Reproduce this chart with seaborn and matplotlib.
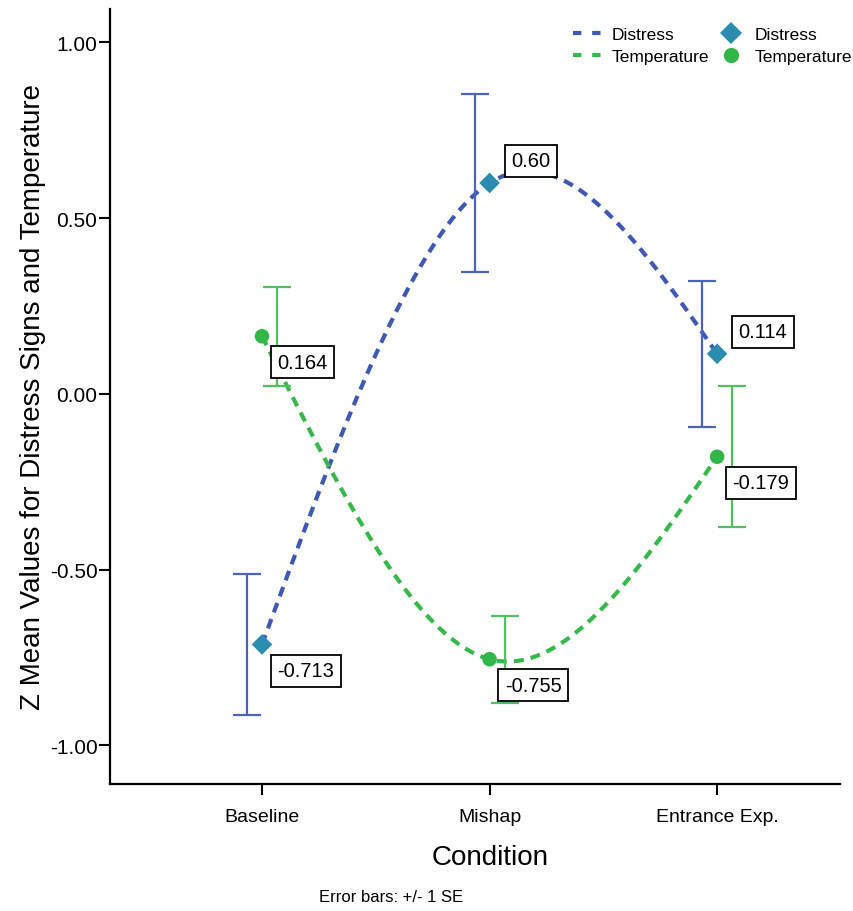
import numpy as np
import pandas as pd
import matplotlib
matplotlib.use("Agg")
import matplotlib.pyplot as plt
from matplotlib.lines import Line2D
import seaborn as sns

conditions = ["Baseline", "Mishap", "Entrance Exp."]
distress_mean = [-0.713, 0.60, 0.114]
distress_se = [0.200, 0.252, 0.207]
temp_mean = [0.164, -0.755, -0.179]
temp_se = [0.141, 0.124, 0.201]
distress_labels = ["-0.713", "0.60", "0.114"]
temp_labels = ["0.164", "-0.755", "-0.179"]

blue_line = "#3e58b3"
blue_err = "#4b64bb"
blue_mark = "#2a8cb0"
green_line = "#37b84b"
green_err = "#4fc05e"
green_mark = "#33b649"


def natural_spline(y, n=300):
    # natural cubic spline through equally spaced points (like SPSS spline interpolation)
    y = np.asarray(y, float)
    k = len(y)
    A = np.zeros((k, k))
    r = np.zeros(k)
    A[0, 0] = A[-1, -1] = 1
    for i in range(1, k - 1):
        A[i, i - 1], A[i, i], A[i, i + 1] = 1, 4, 1
        r[i] = 6 * (y[i - 1] - 2 * y[i] + y[i + 1])
    M = np.linalg.solve(A, r)
    xs = np.linspace(0, k - 1, n)
    i = np.minimum(xs.astype(int), k - 2)
    t = xs - i
    ys = (y[i] * (1 - t) + y[i + 1] * t
          + M[i] * ((1 - t) ** 3 - (1 - t)) / 6 + M[i + 1] * (t ** 3 - t) / 6)
    return xs, ys


sns.set_style("ticks")
plt.rcParams['font.family'] = ['Liberation Sans', 'DejaVu Sans']
plt.rcParams.update({'text.color': 'black', 'axes.labelcolor': 'black',
                     'xtick.color': 'black', 'ytick.color': 'black'})

fig = plt.figure(figsize=(8.54, 9.12), dpi=100)
ax = fig.add_axes([0.1288, 0.1393, 0.8548, 0.8497])

pos = np.arange(len(conditions))
df = pd.DataFrame({
    'pos': np.concatenate([pos, pos]),
    'value': distress_mean + temp_mean,
    'series': ['Distress'] * 3 + ['Temperature'] * 3,
})

# smooth dashed curves
for means, col in [(distress_mean, blue_line), (temp_mean, green_line)]:
    xs, ys = natural_spline(means)
    ax.plot(xs, ys, color=col, lw=3, dashes=(2.4, 1.7), zorder=2)

# error bars, dodged left/right
off = 0.066
ax.errorbar(pos - off, distress_mean, yerr=distress_se, fmt='none', ecolor=blue_err,
            elinewidth=1.6, capsize=10, capthick=1.6, zorder=3)
ax.errorbar(pos + off, temp_mean, yerr=temp_se, fmt='none', ecolor=green_err,
            elinewidth=1.6, capsize=10, capthick=1.6, zorder=3)

sns.scatterplot(data=df, x='pos', y='value', hue='series', style='series',
                markers={'Distress': 'D', 'Temperature': 'o'},
                palette={'Distress': blue_mark, 'Temperature': green_mark},
                s=110, edgecolor='none', legend=False, zorder=4, ax=ax)

# value boxes
where = {"-0.713": 'below', "0.60": 'above', "0.114": 'above',
         "0.164": 'below', "-0.755": 'below', "-0.179": 'below'}
for means, labels in [(distress_mean, distress_labels), (temp_mean, temp_labels)]:
    for x, y, lab in zip(pos, means, labels):
        if where[lab] == 'below':
            xy, va = (11, -12), 'top'
        else:
            xy, va = (15.5, 9), 'bottom'
        ax.annotate(lab, (x, y), xytext=xy, textcoords='offset points',
                    ha='left', va=va, fontsize=14.5, zorder=5,
                    bbox=dict(boxstyle='square,pad=0.32', fc='white', ec='black', lw=1.3))

ax.set_xlim(-0.668, 2.54)
ax.set_ylim(-1.11, 1.095)
ax.set_xticks(pos)
ax.set_xticklabels(conditions)
ax.set_yticks([-1.0, -0.5, 0.0, 0.5, 1.0])
ax.set_yticklabels(["%.2f" % v for v in [-1.0, -0.5, 0.0, 0.5, 1.0]])
ax.tick_params(axis='both', length=8, width=1.5, color='black')
ax.tick_params(axis='y', labelsize=15, pad=1)
ax.tick_params(axis='x', labelsize=14, pad=9)
sns.despine(ax=ax)
for sp in ['left', 'bottom']:
    ax.spines[sp].set_linewidth(1.6)
    ax.spines[sp].set_color('black')

ax.set_xlabel("Condition", fontsize=20)
ax.set_ylabel("Z Mean Values for Distress Signs and Temperature", fontsize=20)
ax.xaxis.set_label_coords(0.5205, -0.077)
ax.yaxis.set_label_coords(-0.088, 0.5)

handles = [
    Line2D([], [], color=blue_line, lw=3, dashes=(2, 2.6)),
    Line2D([], [], color=green_line, lw=3, dashes=(2, 2.6)),
    Line2D([], [], color=blue_mark, marker='D', ls='none', markersize=11, markeredgewidth=0),
    Line2D([], [], color=green_mark, marker='o', ls='none', markersize=11, markeredgewidth=0),
]
ax.legend(handles, ['Distress', 'Temperature', 'Distress', 'Temperature'], ncol=2,
          loc='upper right', bbox_to_anchor=(1.016, 0.977), frameon=False, fontsize=12.5,
          borderaxespad=0, borderpad=0, handlelength=1.7, handletextpad=0.5,
          columnspacing=0.4, labelspacing=0.42)

fig.text(0.458, 0.0154, "Error bars: +/- 1 SE", ha='center', va='center', fontsize=12)

fig.savefig("out.png", dpi=100)
